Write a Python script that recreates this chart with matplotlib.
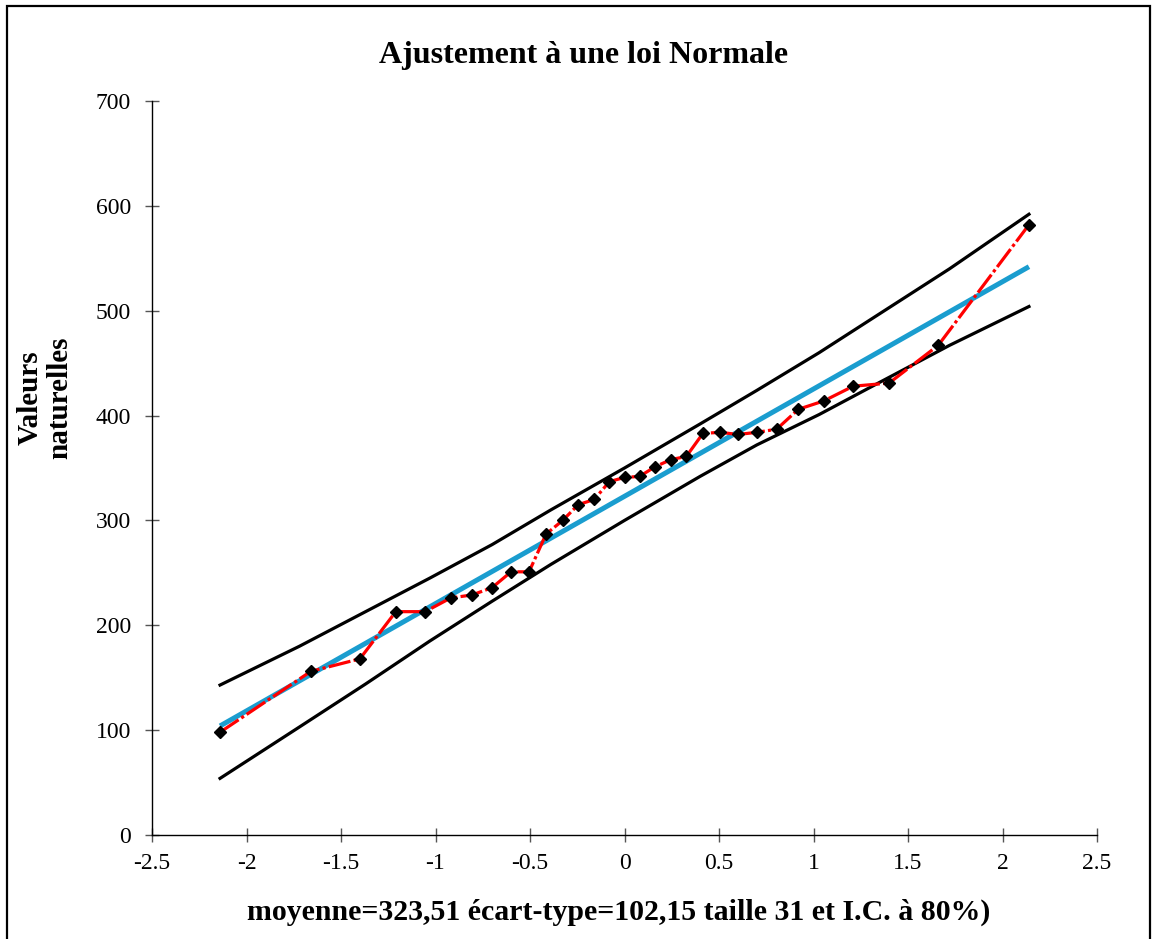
import numpy as np
import matplotlib.pyplot as plt
from matplotlib.patches import Rectangle

plt.rcParams['font.family'] = ['Liberation Serif', 'DejaVu Serif']

# Normal quantiles (x) and sorted observed values (y)
quantiles = [-2.14, -1.66, -1.40, -1.21, -1.055, -0.92, -0.805, -0.70, -0.60, -0.505,
             -0.415, -0.327, -0.245, -0.16, -0.08, 0.0, 0.08, 0.16, 0.245, 0.327,
             0.415, 0.505, 0.60, 0.70, 0.805, 0.92, 1.055, 1.21, 1.40, 1.66, 2.14]
values = [98, 156, 168, 213, 213, 226, 229, 236, 251, 251,
          287, 300, 315, 320, 337, 341, 342, 351, 358, 361,
          383, 384, 382, 384, 387, 406, 414, 428, 431, 467, 582]

# fitted normal line (ends)
fit_x = [-2.14, 2.14]
fit_y = [104, 542]

# confidence band at 80%
band_x = [-2.14, -1.72, -1.37, -1.03, -0.70, -0.39, 0.0, 0.40, 0.70, 1.03, 1.28, 1.72, 2.14]
band_hi = [143, 180, 213, 245, 277, 310, 350, 392, 424, 460, 489, 540, 592]
band_lo = [54, 103, 144, 185, 223, 258, 300, 342, 372, 401, 425, 467, 504]

fig = plt.figure(figsize=(11.52, 9.39), dpi=100)
ax = fig.add_axes([152/1152, 104/939, 945/1152, 734/939])

ax.plot(band_x, band_hi, color='black', lw=2.3, zorder=2)
ax.plot(band_x, band_lo, color='black', lw=2.3, zorder=2)
ax.plot(fit_x, fit_y, color='#1A9DCF', lw=3.6, solid_capstyle='butt', zorder=3)
ax.plot(quantiles, values, color='red', lw=2.3, dashes=(7, 1, 1, 1),
        marker='D', ms=6.5, mfc='black', mec='black', zorder=4)

ax.set_xlim(-2.5, 2.5)
ax.set_ylim(0, 700)
ax.set_xticks(np.arange(-2.5, 2.51, 0.5))
ax.set_yticks(np.arange(0, 701, 100))
ax.set_xticklabels(['-2.5', '-2', '-1.5', '-1', '-0.5', '0', '0.5', '1', '1.5', '2', '2.5'])
for s in ['top', 'right']:
    ax.spines[s].set_visible(False)
for s in ['left', 'bottom']:
    ax.spines[s].set_linewidth(1.0)
ax.tick_params(axis='both', direction='inout', length=10, width=1.0,
               labelsize=17, color='#555555')
ax.tick_params(axis='y', pad=10)
ax.tick_params(axis='x', pad=8)

fig.text(584/1152, 1 - 55/939, 'Ajustement à une loi Normale', ha='center', va='center',
         fontsize=23, fontweight='bold')
fig.text(619/1152, 1 - 912/939, 'moyenne=323,51 écart-type=102,15 taille 31 et I.C. à 80%)',
         ha='center', va='center', fontsize=21.5, fontweight='bold')
fig.text(45/1152, 1 - 398/939, 'Valeurs\nnaturelles', ha='center', va='center',
         rotation=90, fontsize=21, fontweight='bold', linespacing=1.15)

# outer frame
fig.patches.append(Rectangle((7/1152, -0.02), 1143/1152, 0.02 + 933/939,
                             transform=fig.transFigure, fill=False,
                             edgecolor='black', lw=1.6))

fig.savefig('out.png', dpi=100)
